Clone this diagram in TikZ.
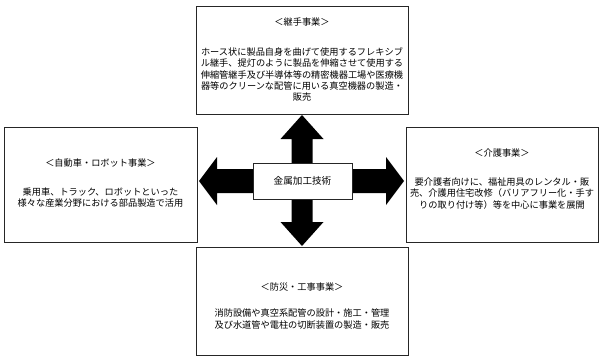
\documentclass[tikz,border=0pt]{standalone}
\usepackage{fontspec}
\setmainfont{Noto Sans CJK JP}
\begin{document}
\begin{tikzpicture}[x=1pt,y=-1pt,
  box/.style={draw=black!85,line width=0.8pt,fill=white,inner sep=0pt},
  txt/.style={inner sep=0pt,align=center,font=\fontsize{9.2}{11.4}\selectfont},
  ttl/.style={inner sep=0pt,font=\fontsize{9.2}{11.4}\selectfont}]
\useasboundingbox (0,0) rectangle (603,359);
% four-way arrow
\fill[black] (302,115) -- (323.5,139) -- (312.5,139) -- (312.5,169) -- (386,169) -- (386,157) -- (404,181) -- (386,205) -- (386,193) -- (312.5,193) -- (312.5,222) -- (323.5,222) -- (302,246) -- (280.5,222) -- (291.5,222) -- (291.5,193) -- (217,193) -- (217,205) -- (199,181) -- (217,157) -- (217,169) -- (291.5,169) -- (291.5,139) -- (280.5,139) -- cycle;
% boxes
\node[box,minimum width=212pt,minimum height=108pt] (top) at (302,60) {};
\node[box,minimum width=193pt,minimum height=115pt] (left) at (100.5,184.5) {};
\node[box,minimum width=192pt,minimum height=115pt] (right) at (502,184.5) {};
\node[box,minimum width=212pt,minimum height=108pt] (bottom) at (302,301) {};
\node[box,minimum width=99pt,minimum height=36pt,font=\fontsize{9.6}{11.4}\selectfont] (center) at (302.5,181) {金属加工技術};
% texts
\node[ttl] (topt) at (302,22) {＜継手事業＞};
\node[txt] (topb) at (302,74.5) {ホース状に製品自身を曲げて使用するフレキシブ\\ル継手、提灯のように製品を伸縮させて使用する\\伸縮管継手及び半導体等の精密機器工場や医療機\\器等のクリーンな配管に用いる真空機器の製造・\\販売};
\node[ttl] (leftt) at (100.5,163) {＜自動車・ロボット事業＞};
\node[txt] (leftb) at (100.5,197.5) {乗用車、トラック、ロボットといった\\様々な産業分野における部品製造で活用};
\node[ttl] (rightt) at (502,153) {＜介護事業＞};
\node[txt] (rightb) at (502,193.5) {要介護者向けに、福祉用具のレンタル・販\\売、介護用住宅改修（バリアフリー化・手す\\りの取り付け等）等を中心に事業を展開};
\node[ttl] (bottomt) at (302,287) {＜防災・工事事業＞};
\node[txt] (bottomb) at (302,319) {消防設備や真空系配管の設計・施工・管理\\及び水道管や電柱の切断装置の製造・販売};
\end{tikzpicture}
\end{document}
